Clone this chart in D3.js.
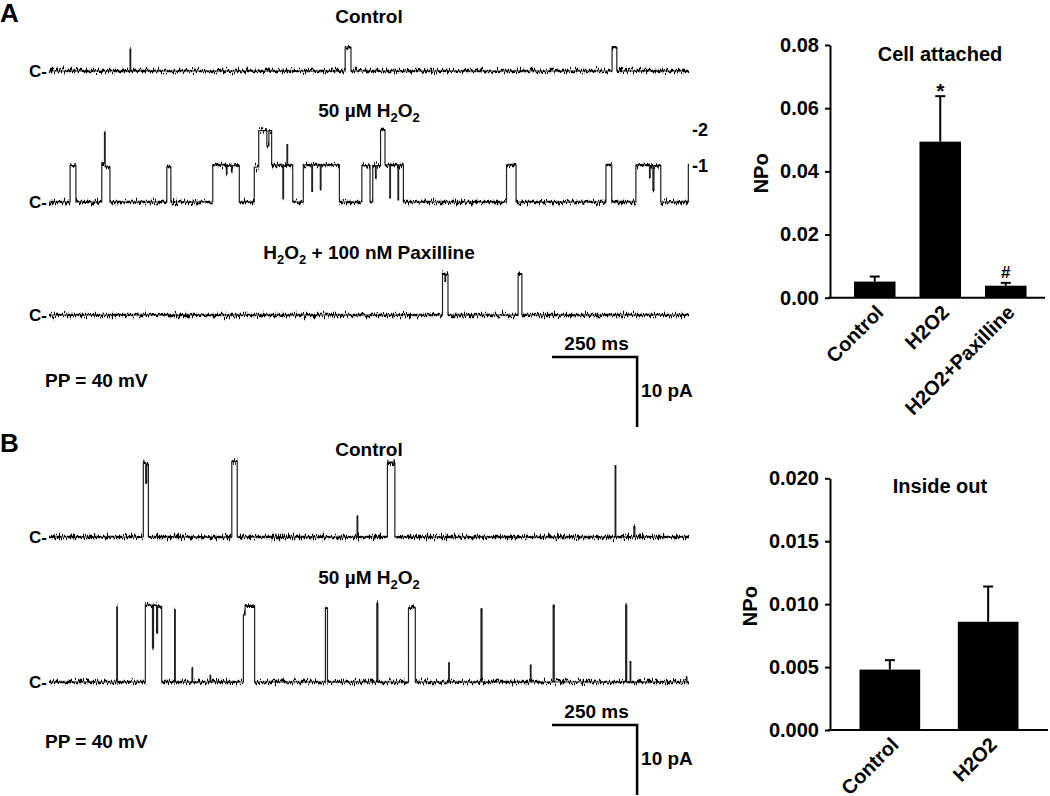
<!DOCTYPE html>
<html>
<head>
<meta charset="utf-8">
<script src="https://cdn.jsdelivr.net/npm/d3@7"></script>
<style>
    body { margin: 0; background: #fff; }
    svg { display: block; font-family: "Liberation Sans", Arial, sans-serif; font-weight: bold; }
    .axis path, .axis line { stroke: #000; stroke-width: 2px; }
    .axis text { font-size: 20px; font-weight: bold; fill: #000; }
</style>
</head>
<body>
<div id="figure"></div>
<script>
"use strict";

// record length of every trace, ms
var traceMs = 1880;

// single channel events: [start ms, end ms, current pA]; closed level is 0
var aControl = [[238, 240, 3.1], [870, 887, 3.4], [1654, 1668, 3.4]];
var aPeroxide = [
    [62, 79, 5.2], [155, 163, 5.6], [163, 165, 10.0], [165, 179, 5.0],
    [346, 358, 5.0],
    [481, 521, 5.3], [521, 523, 4.0], [523, 536, 5.2], [536, 538, 4.3], [538, 559, 5.2],
    [603, 616, 5.0], [616, 640, 10.2], [640, 646, 8.0], [646, 654, 10.2],
    [654, 687, 5.3], [687, 689, 0.5], [689, 699, 5.2], [699, 701, 8.2], [701, 716, 5.3],
    [747, 772, 5.3], [772, 774, 1.5], [774, 797, 5.3], [797, 799, 1.8], [799, 853, 5.3],
    [919, 943, 5.2],
    [951, 959, 5.2], [959, 961, 3.4], [961, 974, 5.2], [974, 987, 10.3],
    [987, 1001, 5.3], [1001, 1003, 0.6], [1003, 1025, 5.3], [1025, 1027, 0.3], [1027, 1041, 5.3],
    [1344, 1372, 5.3],
    [1636, 1653, 5.3],
    [1724, 1764, 5.3], [1764, 1766, 3.5], [1766, 1774, 5.2], [1774, 1777, 1.7], [1777, 1797, 5.2],
    [1878, 1880, 5.3]
];
var aPaxilline = [[1156, 1163, 5.9], [1163, 1165, 4.8], [1165, 1172, 5.8], [1378, 1389, 5.9]];
var bControl = [
    [277, 284, 10.6], [284, 287, 7.7], [287, 292, 10.4],
    [537, 553, 10.8], [905, 907, 3.0], [994, 1016, 10.6],
    [1663, 1665, 10.2], [1718, 1721, 1.5]
];
var bPeroxide = [
    [199, 201, 10.7],
    [283, 304, 11.0], [304, 307, 4.9], [307, 316, 11.0], [316, 319, 7.0], [319, 331, 10.8],
    [369, 371, 10.3], [420, 422, 2.0], [473, 475, 0.9],
    [571, 576, 9.6], [576, 604, 10.9],
    [812, 818, 10.6], [963, 966, 11.2], [1056, 1076, 10.6],
    [1174, 1176, 2.7], [1269, 1272, 10.4], [1414, 1416, 2.4],
    [1481, 1484, 11.0], [1694, 1697, 11.0], [1707, 1709, 2.9], [1872, 1874, 0.7]
];

// open levels marked at the right of the H2O2 trace
var levelNames = ["-1", "-2"];
var levelPa = [5.2, 10.3];

// scale bars
var barMs = 250;
var barPa = 10;

// bar charts
var cellCats = ["Control", "H2O2", "H2O2+Paxilline"];
var cellMeans = [0.0051, 0.0494, 0.0038];
var cellErrs = [0.0016, 0.0144, 0.0009];
var cellMarks = ["", "*", "#"];
var cellTicks = [0, 0.02, 0.04, 0.06, 0.08];

var insideCats = ["Control", "H2O2"];
var insideMeans = [0.0048, 0.0086];
var insideErrs = [0.00075, 0.0028];
var insideTicks = [0, 0.005, 0.010, 0.015, 0.020];

var svg = d3.select('#figure').append('svg')
    .attr('width', 1050)
    .attr('height', 796);

var defs = svg.append('defs');
var filter = defs.append('filter')
    .attr('id', 'noise')
    .attr('filterUnits', 'userSpaceOnUse')
    .attr('x', 0).attr('y', 0).attr('width', 1050).attr('height', 796)
    .attr('color-interpolation-filters', 'sRGB');
filter.append('feTurbulence')
    .attr('type', 'fractalNoise')
    .attr('baseFrequency', '0.9 0.08')
    .attr('numOctaves', 2)
    .attr('seed', 4)
    .attr('result', 'turb');
// only vertical jitter: red channel held at 0.5
filter.append('feColorMatrix')
    .attr('in', 'turb')
    .attr('type', 'matrix')
    .attr('values', '0 0 0 0 0.5  0 1 0 0 0  0 0 0 0 0.5  0 0 0 0 1')
    .attr('result', 'map');
filter.append('feDisplacementMap')
    .attr('in', 'SourceGraphic')
    .attr('in2', 'map')
    .attr('scale', 11)
    .attr('xChannelSelector', 'R')
    .attr('yChannelSelector', 'G');

var x = d3.scaleLinear().domain([0, traceMs]).range([49, 689]);

function stepPoints(events) {
    var pts = [[0, 0]];
    events.forEach(function (e) {
        var last = pts[pts.length - 1];
        if (e[0] > last[0]) {
            if (last[1] !== 0) {
                pts.push([last[0], 0]);
            }
            pts.push([e[0], 0]);
        }
        pts.push([e[0], e[2]]);
        pts.push([e[1], e[2]]);
    });
    var end = pts[pts.length - 1];
    if (end[0] < traceMs) {
        if (end[1] !== 0) {
            pts.push([end[0], 0]);
        }
        pts.push([traceMs, 0]);
    }
    return pts;
}

function titleText(sel, parts) {
    // parts: [text, isSubscript]
    parts.forEach(function (p, i) {
        var t = sel.append('tspan').text(p[0]);
        if (p[1]) {
            t.attr('font-size', 13).attr('dy', 5);
        } else if (i > 0 && parts[i - 1][1]) {
            t.attr('dy', -5);
        }
    });
}

var h2o2 = [["H", false], ["2", true], ["O", false], ["2", true]];

var traces = [
    {events: aControl, base: 71, titleY: 23, title: [["Control", false]]},
    {events: aPeroxide, base: 202, titleY: 117, title: [["50 µM H", false]].concat(h2o2.slice(1))},
    {events: aPaxilline, base: 315, titleY: 259, title: h2o2.concat([[" + 100 nM Paxilline", false]])},
    {events: bControl, base: 537, titleY: 456, title: [["Control", false]]},
    {events: bPeroxide, base: 682, titleY: 584, title: [["50 µM H", false]].concat(h2o2.slice(1))}
];

traces.forEach(function (tr) {
    var y = d3.scaleLinear().domain([0, 10]).range([tr.base, tr.base - 70]);
    tr.y = y;
    var pts = stepPoints(tr.events);
    var line = d3.line()
        .x(function (d) { return x(d[0]); })
        .y(function (d) { return y(d[1]); });

    // transitions: thin, like the fast edges of the recording
    svg.append('path')
        .datum(pts)
        .attr('d', line)
        .attr('fill', 'none')
        .attr('stroke', '#222')
        .attr('stroke-width', 1.2);

    // dwell levels: noisy band
    var flat = '';
    for (var i = 1; i < pts.length; i++) {
        if (pts[i][1] === pts[i - 1][1] && pts[i][0] > pts[i - 1][0]) {
            flat += 'M' + x(pts[i - 1][0]) + ',' + y(pts[i][1]) + 'H' + x(pts[i][0]);
        }
    }
    svg.append('path')
        .attr('d', flat)
        .attr('fill', 'none')
        .attr('stroke', '#000')
        .attr('stroke-width', 2.5)
        .attr('filter', 'url(#noise)');

    svg.append('text')
        .attr('x', 47)
        .attr('y', tr.base + 6)
        .attr('text-anchor', 'end')
        .attr('font-size', 17)
        .text('C-');

    var t = svg.append('text')
        .attr('x', 369)
        .attr('y', tr.titleY)
        .attr('text-anchor', 'middle')
        .attr('font-size', 19);
    titleText(t, tr.title);
});

// level markers for the H2O2 cell attached trace
svg.selectAll('.level')
    .data(levelNames)
    .enter().append('text')
        .attr('class', 'level')
        .attr('x', 692)
        .attr('y', function (d, i) { return traces[1].y(levelPa[i]) + 6; })
        .attr('font-size', 18)
        .text(function (d) { return d; });

// panel letters
svg.append('text').attr('x', 0).attr('y', 22).attr('font-size', 26).text('A');
svg.append('text').attr('x', 0).attr('y', 452).attr('font-size', 26).text('B');

function scaleBar(top, y) {
    var x0 = 552;
    var x1 = x0 + x(barMs) - x(0);
    var len = y(0) - y(barPa);
    svg.append('path')
        .attr('d', 'M' + x0 + ',' + top + 'H' + x1 + 'V' + (top + len))
        .attr('fill', 'none')
        .attr('stroke', '#000')
        .attr('stroke-width', 2.5);
    svg.append('text')
        .attr('x', (x0 + x1) / 2 + 2)
        .attr('y', top - 7)
        .attr('text-anchor', 'middle')
        .attr('font-size', 19)
        .text(barMs + ' ms');
    svg.append('text')
        .attr('x', x1 + 4)
        .attr('y', top + 40)
        .attr('font-size', 19)
        .text(barPa + ' pA');
}

scaleBar(357, traces[2].y);
scaleBar(725, traces[4].y);

svg.append('text').attr('x', 45).attr('y', 387).attr('font-size', 19).text('PP = 40 mV');
svg.append('text').attr('x', 45).attr('y', 748).attr('font-size', 19).text('PP = 40 mV');

function barChart(opts) {
    var xb = d3.scaleBand()
        .domain(opts.cats)
        .range([830, opts.right])
        .paddingInner(opts.padIn)
        .paddingOuter(opts.padOut);
    var yb = d3.scaleLinear()
        .domain([0, opts.ticks[opts.ticks.length - 1]])
        .range(opts.yRange);

    var g = svg.append('g');

    g.append('g')
        .attr('class', 'axis')
        .attr('transform', 'translate(830,0)')
        .call(d3.axisLeft(yb)
            .tickValues(opts.ticks)
            .tickFormat(d3.format(opts.fmt))
            .tickSize(5)
            .tickSizeOuter(0)
            .tickPadding(6));

    g.append('line')
        .attr('x1', 828).attr('x2', opts.axisEnd)
        .attr('y1', yb(0)).attr('y2', yb(0))
        .attr('stroke', '#000')
        .attr('stroke-width', 2);

    g.selectAll('.bar')
        .data(opts.means)
        .enter().append('rect')
            .attr('class', 'bar')
            .attr('x', function (d, i) { return xb(opts.cats[i]); })
            .attr('y', function (d) { return yb(d); })
            .attr('width', xb.bandwidth())
            .attr('height', function (d) { return yb(0) - yb(d); })
            .attr('fill', '#000');

    var err = g.selectAll('.err')
        .data(opts.means)
        .enter().append('g')
            .attr('class', 'err')
            .attr('transform', function (d, i) {
                return 'translate(' + (xb(opts.cats[i]) + xb.bandwidth() / 2) + ',0)';
            });
    err.append('line')
        .attr('x1', 0).attr('x2', 0)
        .attr('y1', function (d) { return yb(d); })
        .attr('y2', function (d, i) { return yb(d + opts.errs[i]); })
        .attr('stroke', '#000').attr('stroke-width', 2);
    err.append('line')
        .attr('x1', -5).attr('x2', 5)
        .attr('y1', function (d, i) { return yb(d + opts.errs[i]); })
        .attr('y2', function (d, i) { return yb(d + opts.errs[i]); })
        .attr('stroke', '#000').attr('stroke-width', 2);

    if (opts.marks) {
        err.append('text')
            .attr('text-anchor', 'middle')
            .attr('y', function (d, i) {
                return yb(d + opts.errs[i]) + (opts.marks[i] === '*' ? 2 : -5);
            })
            .attr('font-size', function (d, i) { return opts.marks[i] === '*' ? 21 : 17; })
            .text(function (d, i) { return opts.marks[i]; });
    }

    g.selectAll('.cat')
        .data(opts.cats)
        .enter().append('text')
            .attr('class', 'cat')
            .attr('text-anchor', 'end')
            .attr('font-size', 20)
            .attr('transform', function (d) {
                return 'translate(' + (xb(d) + xb.bandwidth() / 2 + 10) + ',' + (yb(0) + 16) + ') rotate(-45)';
            })
            .text(function (d) { return d; });

    g.append('text')
        .attr('x', 940)
        .attr('y', opts.titleY)
        .attr('text-anchor', 'middle')
        .attr('font-size', 20)
        .text(opts.title);

    var mid = (opts.yRange[0] + opts.yRange[1]) / 2;
    g.append('text')
        .attr('text-anchor', 'middle')
        .attr('font-size', 20)
        .attr('transform', 'translate(' + opts.labelX + ',' + (mid + 2) + ') rotate(-90)')
        .text('NPo');
}

barChart({
    cats: cellCats, means: cellMeans, errs: cellErrs, marks: cellMarks, ticks: cellTicks,
    fmt: '.2f', right: 1050.5, padIn: 0.366, padOut: 0.366, yRange: [297.7, 45],
    axisEnd: 1045, title: 'Cell attached', titleY: 61, labelX: 768
});

barChart({
    cats: insideCats, means: insideMeans, errs: insideErrs, marks: null, ticks: insideTicks,
    fmt: '.3f', right: 1048, padIn: 0.383, padOut: 0.3, yRange: [730, 478.3],
    axisEnd: 1048, title: 'Inside out', titleY: 493, labelX: 757
});
</script>
</body>
</html>
